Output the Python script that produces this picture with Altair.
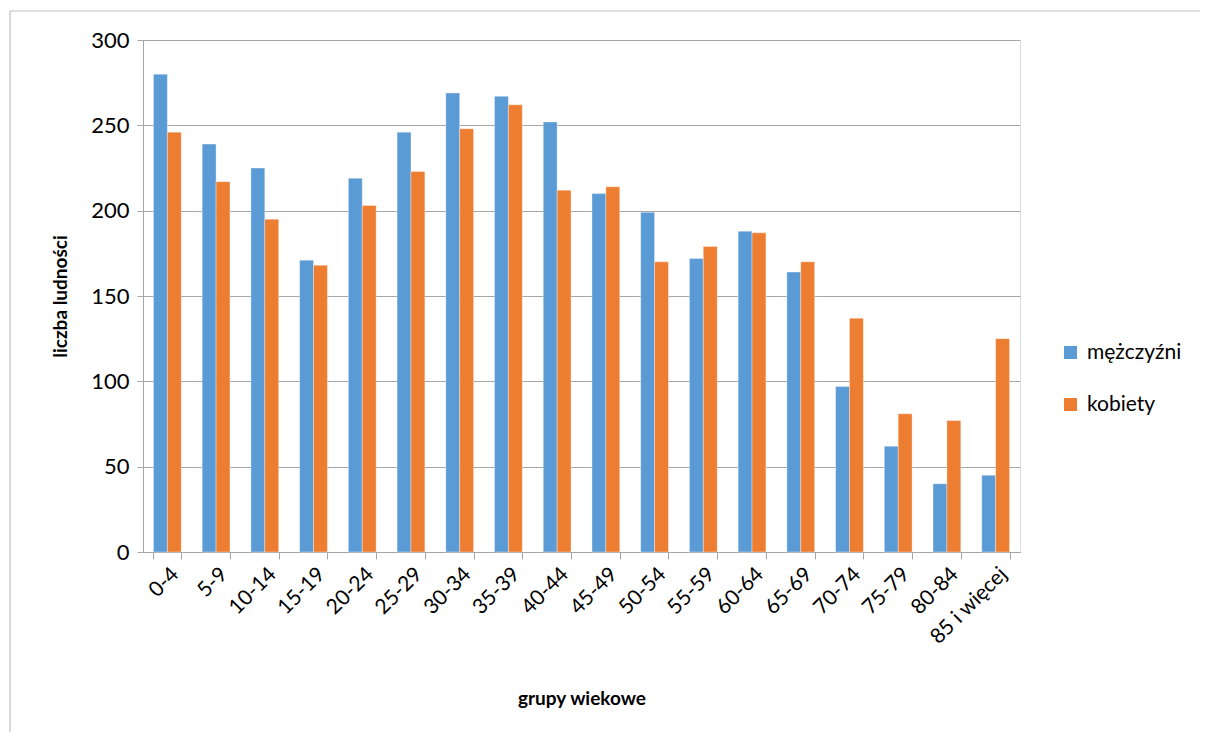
import altair as alt
import pandas as pd

groups = ["0-4", "5-9", "10-14", "15-19", "20-24", "25-29", "30-34", "35-39", "40-44",
          "45-49", "50-54", "55-59", "60-64", "65-69", "70-74", "75-79", "80-84", "85 i więcej"]
men = [280, 239, 225, 171, 219, 246, 269, 267, 252, 210, 199, 172, 188, 164, 97, 62, 40, 45]
women = [246, 217, 195, 168, 203, 223, 248, 262, 212, 214, 170, 179, 187, 170, 137, 81, 77, 125]
series = ["mężczyźni", "kobiety"]
colors = ["#5B9BD5", "#ED7D31"]

rows = []
for g, m, k in zip(groups, men, women):
    rows.append({"grupa": g, "seria": series[0], "v": m})
    rows.append({"grupa": g, "seria": series[1], "v": k})
df = pd.DataFrame(rows)

FONT = "Lato"

bars = alt.Chart(df).mark_bar(stroke="white", strokeOpacity=0.35, strokeWidth=1).encode(
    x=alt.X("grupa:N", sort=groups,
            scale=alt.Scale(paddingInner=0.43, paddingOuter=0.215),
            axis=alt.Axis(title="grupy wiekowe", labelAngle=-45, labelFontSize=21,
                          labelColor="#000", labelFont=FONT, titleFont=FONT,
                          titleFontSize=19, titleFontWeight="bold", titleColor="#000",
                          titlePadding=42, tickBand="extent", tickSize=7,
                          tickColor="#A6A6A6", domainColor="#A6A6A6", labelPadding=4)),
    xOffset=alt.XOffset("seria:N", sort=series),
    y=alt.Y("v:Q", scale=alt.Scale(domain=[0, 300], nice=False),
            axis=alt.Axis(title="liczba ludności", values=[0, 50, 100, 150, 200, 250, 300],
                          labelFontSize=22, labelColor="#000", labelFont=FONT, titleFont=FONT,
                          titleFontSize=19, titleFontWeight="bold", titleColor="#000",
                          titlePadding=20, tickSize=6, tickColor="#A6A6A6",
                          domainColor="#A6A6A6", gridColor="#A6A6A6", labelPadding=8)),
    color=alt.Color("seria:N", sort=series,
                    scale=alt.Scale(domain=series, range=colors),
                    legend=alt.Legend(title=None, orient="none", legendX=917, legendY=302,
                                      symbolType="square", symbolSize=170,
                                      symbolStrokeWidth=0, labelFontSize=21,
                                      labelFont=FONT, labelColor="#000",
                                      rowPadding=30, labelOffset=6)),
)

frame_df = pd.DataFrame({"a": [0]})
top_edge = alt.Chart(frame_df).mark_rule(color="#BFBFBF", strokeWidth=1.2).encode(
    x=alt.value(-133), x2=alt.value(1100), y=alt.value(-29))
left_edge = alt.Chart(frame_df).mark_rule(color="#BFBFBF", strokeWidth=1.2).encode(
    x=alt.value(-133), y=alt.value(-29), y2=alt.value(720))

chart = alt.layer(bars, top_edge, left_edge).properties(
    width=877, height=512,
    autosize=alt.AutoSizeParams(type="none"),
    padding={"left": 135, "top": 32, "right": 180, "bottom": 180},
).configure_view(stroke=None).configure(background="white")

chart.save("out.html", embed_options={"renderer": "svg", "actions": False})
